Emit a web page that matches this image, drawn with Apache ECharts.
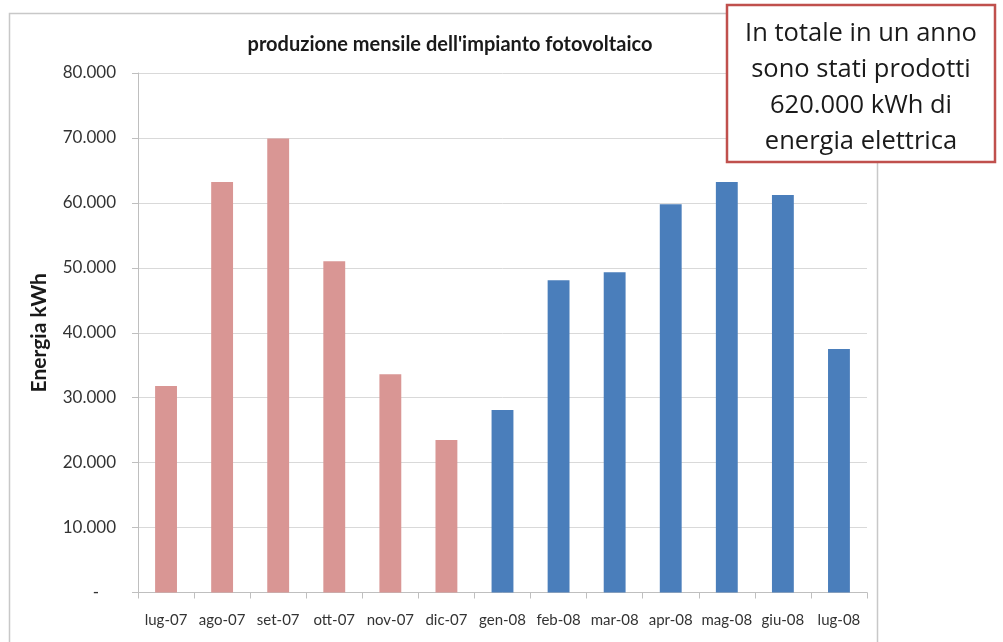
<!DOCTYPE html>
<html>
<head>
<meta charset="utf-8">
<script src="https://cdn.jsdelivr.net/npm/echarts@6/dist/echarts.min.js"></script>
<style>
  html, body { margin: 0; padding: 0; background: #ffffff; }
  #chart { width: 1003px; height: 642px; }
</style>
</head>
<body>
<div id="chart"></div>
<script>
// Monthly output of the PV plant, July 2007 – July 2008 (kWh)
const months = ['lug-07', 'ago-07', 'set-07', 'ott-07', 'nov-07', 'dic-07',
                'gen-08', 'feb-08', 'mar-08', 'apr-08', 'mag-08', 'giu-08', 'lug-08'];
const energyKWh = [31800, 63200, 69900, 51000, 33600, 23500,
                   28100, 48100, 49300, 59800, 63200, 61200, 37500];
const chartTitle = "produzione mensile dell'impianto fotovoltaico";
const axisTitle = 'Energia kWh';
const noteLines = ['In totale in un anno', 'sono stati prodotti', '620.000 kWh di', 'energia elettrica'];

const PINK = '#D99694';
const BLUE = '#4A7EBB';

// Italian thousands separator, zero shown as a dash
function fmt(v) {
  if (v === 0) return '-\u2002\u2002';
  return String(v).replace(/\B(?=(\d{3})+(?!\d))/g, '.');
}

const chart = echarts.init(document.getElementById('chart'), null, { renderer: 'canvas' });

chart.setOption({
  animation: false,
  backgroundColor: '#ffffff',
  textStyle: { fontFamily: 'Lato, "Open Sans", sans-serif' },
  title: {
    text: chartTitle,
    left: 445,
    top: 30,
    textAlign: 'center',
    textStyle: { fontSize: 20, fontWeight: 'bold', color: '#1a1a1a', fontFamily: 'Lato, sans-serif' }
  },
  grid: { left: 138, right: 136, top: 73, bottom: 49.5, containLabel: false },
  xAxis: {
    type: 'category',
    data: months,
    axisLine: { show: true, lineStyle: { color: '#BFBFBF', width: 1 } },
    axisTick: { show: true, length: 6, lineStyle: { color: '#BFBFBF' } },
    axisLabel: { color: '#333333', fontSize: 15, margin: 20, interval: 0 }
  },
  yAxis: {
    type: 'value',
    min: 0,
    max: 80000,
    interval: 10000,
    name: axisTitle,
    nameLocation: 'middle',
    nameGap: 88,
    nameRotate: 90,
    nameTextStyle: { fontSize: 21, fontWeight: 'bold', color: '#1a1a1a' },
    axisLine: { show: true, lineStyle: { color: '#BFBFBF', width: 1 } },
    axisTick: { show: true, length: 6, lineStyle: { color: '#BFBFBF' } },
    axisLabel: { color: '#333333', fontSize: 17, margin: 22, formatter: fmt },
    splitLine: { show: true, lineStyle: { color: '#D9D9D9', width: 1 } }
  },
  series: [{
    type: 'bar',
    data: energyKWh,
    barWidth: '39%',
    itemStyle: {
      color: p => (p.name.endsWith('-07') ? PINK : BLUE)
    }
  }],
  graphic: [
    {
      // chart area frame
      type: 'rect',
      z: -10,
      silent: true,
      shape: { x: 9.5, y: 13.5, width: 868, height: 660 },
      style: { fill: null, stroke: '#C8C8C8', lineWidth: 1.5 }
    },
    {
      // summary note box on top of the plot
      type: 'rect',
      z: 200,
      shape: { x: 727, y: 5, width: 268, height: 157 },
      style: { fill: '#ffffff', stroke: '#C0504D', lineWidth: 2.5 }
    },
    ...noteLines.map((t, i) => ({
      type: 'text',
      z: 201,
      x: 861,
      y: 34 + i * 36,
      style: {
        text: t,
        fill: '#1a1a1a',
        font: '25.5px "Open Sans", sans-serif',
        textAlign: 'center',
        textVerticalAlign: 'middle'
      }
    }))
  ]
});
</script>
</body>
</html>
